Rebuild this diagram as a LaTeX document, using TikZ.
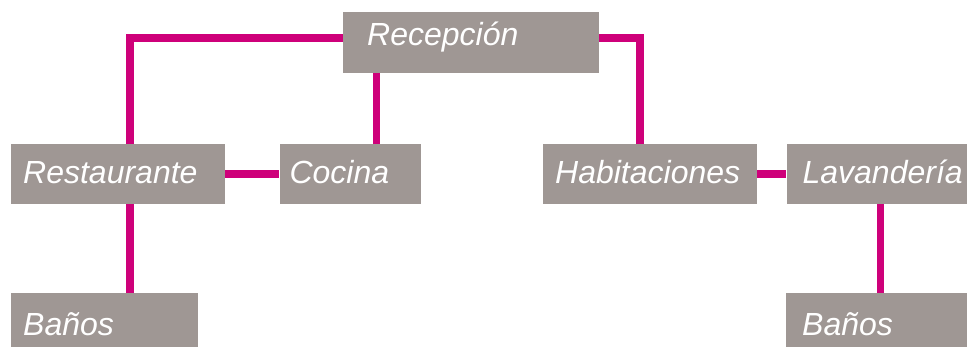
\documentclass[tikz,border=0pt]{standalone}
\usepackage{fontspec}
\setmainfont{Liberation Sans}
\usepackage{tikz}
\usetikzlibrary{positioning}

\definecolor{boxgray}{RGB}{159,151,148}
\definecolor{linkpink}{RGB}{206,0,122}

\begin{document}
\begin{tikzpicture}[x=1pt,y=1pt,
  box/.style={fill=boxgray,text=white,font=\fontsize{32}{32}\selectfont\itshape,
    anchor=north west,align=left,inner xsep=12pt,inner ysep=0pt,
    minimum height=60pt,text height=23pt,text depth=4.4pt},
  link/.style={draw=linkpink,line width=7.5pt}]
\useasboundingbox (0,0) rectangle (967,-347);

\node[box,inner xsep=24pt,text width=208pt,minimum height=61pt,text depth=18pt] (rec) at (343,-12) {Recepción};
\node[box,text width=190pt]                (rest) at (11,-144)  {Restaurante};
\node[box,inner xsep=10pt,text width=121pt] (coc) [right=54pt of rest.north east,anchor=north west] {Cocina};
\node[box,text width=190pt]                (hab)  at (543,-144) {Habitaciones};
\node[box,inner xsep=16pt,text width=156pt] (lav) [right=29pt of hab.north east,anchor=north west] {Lavandería};
\node[box,text width=163pt,minimum height=61pt,text depth=0pt]   (ban1) at (11,-293)  {Baños};
\node[box,inner xsep=16pt,text width=156pt,minimum height=61pt,text depth=0pt] (ban2) at (786,-293) {Baños};

% links
\draw[link] ([yshift=4.5]rec.west) -| ([xshift=12]rest.north);
\draw[link] ([xshift=26.5]coc.north) -- ([xshift=26.5]coc.north |- rec.south);
\draw[link] ([yshift=4.5]rec.east) -| ([xshift=-10]hab.north);
\draw[link] (rest.east) -- (coc.west);
\draw[link] (hab.east) -- (lav.west);
\draw[link] ([xshift=12]rest.south) -- ([xshift=12]rest.south |- ban1.north);
\draw[link] (lav.south) -- (lav.south |- ban2.north);

\end{tikzpicture}
\end{document}
